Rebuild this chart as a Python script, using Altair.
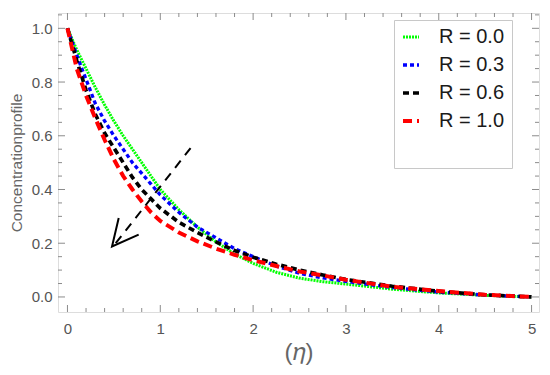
import altair as alt
import pandas as pd

# ---- data ----
eta = [0.0, 0.1, 0.2, 0.3, 0.4, 0.5, 0.6, 0.7, 0.8, 0.9, 1.0, 1.2, 1.4, 1.6, 1.8,
       2.0, 2.25, 2.5, 2.75, 3.0, 3.5, 4.0, 4.5, 5.0]
r00 = [1.0, 0.92, 0.85, 0.78, 0.715, 0.655, 0.60, 0.55, 0.50, 0.45, 0.40, 0.325,
       0.26, 0.205, 0.16, 0.125, 0.092, 0.07, 0.057, 0.048, 0.029, 0.015, 0.006, 0.0]
r03 = [1.0, 0.90, 0.81, 0.72, 0.655, 0.60, 0.55, 0.50, 0.46, 0.42, 0.38, 0.315,
       0.26, 0.22, 0.18, 0.15, 0.115, 0.088, 0.071, 0.058, 0.035, 0.018, 0.007, 0.0]
r06 = [1.0, 0.88, 0.77, 0.68, 0.61, 0.555, 0.50, 0.445, 0.40, 0.365, 0.33, 0.278,
       0.24, 0.205, 0.173, 0.148, 0.122, 0.10, 0.082, 0.065, 0.04, 0.021, 0.008, 0.0]
r10 = [1.0, 0.85, 0.75, 0.665, 0.585, 0.512, 0.45, 0.40, 0.355, 0.315, 0.283, 0.24,
       0.207, 0.18, 0.157, 0.137, 0.115, 0.095, 0.08, 0.064, 0.038, 0.022, 0.008, 0.0]
series = ["R = 0.0", "R = 0.3", "R = 0.6", "R = 1.0"]
colors = ["#00ff00", "#0000ff", "#000000", "#ff0000"]
dashes = [[2, 1], [4, 3], [6, 4], [9, 5]]
widths = [3, 4, 4, 4.5]

x_major = [0, 1, 2, 3, 4, 5]
x_minor = [0.2, 0.4, 0.6, 0.8, 1.2, 1.4, 1.6, 1.8, 2.2, 2.4, 2.6, 2.8, 3.2, 3.4,
           3.6, 3.8, 4.2, 4.4, 4.6, 4.8]
y_major = [0.0, 0.2, 0.4, 0.6, 0.8, 1.0]
y_minor = [0.05, 0.1, 0.15, 0.25, 0.3, 0.35, 0.45, 0.5, 0.55, 0.65, 0.7, 0.75,
           0.85, 0.9, 0.95, 1.05]

# annotation arrow (data coordinates)
shaft_x = [1.358, 0.52]
shaft_y = [0.568, 0.20]
head_x = [0.552, 0.48, 0.767]
head_y = [0.294, 0.188, 0.232]

W, H = 481, 299
XD = [-0.102, 5.08]
YD = [-0.056, 1.057]
FRAME = "#8c8c8c"

rows = []
for name, vals in zip(series, [r00, r03, r06, r10]):
    for e, v in zip(eta, vals):
        rows.append({"eta": e, "val": v, "R": name})
df = pd.DataFrame(rows)

xs = alt.Scale(domain=XD, nice=False, zero=False)
ys = alt.Scale(domain=YD, nice=False, zero=False)

legend = alt.Legend(
    title="\u00a0", titleOrient="bottom", titleFontSize=20, titlePadding=10,
    orient="none", legendX=336, legendY=7,
    symbolType="stroke", symbolSize=256, symbolStrokeWidth=4, symbolDash=[3, 1],
    labelFontSize=20, labelFont="Liberation Sans", labelColor="#1a1a1a",
    labelOffset=18, rowPadding=8, padding=7,
    strokeColor="#c8c8c8", fillColor="white",
)

lines = alt.Chart(df).mark_line(clip=True).encode(
    x=alt.X("eta:Q", scale=xs,
            axis=alt.Axis(values=x_major, format="d", ticks=False, grid=False, domain=False,
                          labelFontSize=15, labelColor="#555555", labelFont="Liberation Sans",
                          labelPadding=9, title="(𝜂)", titleFontSize=24,
                          titleFontWeight="normal", titleColor="#666666",
                          titleFont="Liberation Sans", titleY=28,
                          titleBaseline="top")),
    y=alt.Y("val:Q", scale=ys,
            axis=alt.Axis(values=y_major, format=".1f", ticks=False, grid=False, domain=False,
                          labelFontSize=15, labelColor="#555555", labelFont="Liberation Sans",
                          labelPadding=6, title="Concentrationprofile", titleFontSize=15.5,
                          titleFontWeight="normal", titleColor="#666666",
                          titleFont="Liberation Sans", titleX=-34)),
    color=alt.Color("R:N", scale=alt.Scale(domain=series, range=colors), legend=legend),
    strokeDash=alt.StrokeDash("R:N", scale=alt.Scale(domain=series, range=dashes), legend=None),
    strokeWidth=alt.StrokeWidth("R:N", scale=alt.Scale(domain=series, range=widths), legend=None),
    order=alt.Order("eta:Q"),
)

shaft = alt.Chart(pd.DataFrame({"x": shaft_x, "y": shaft_y})).mark_line(
    color="black", strokeWidth=2, strokeDash=[9, 7]).encode(
    x=alt.X("x:Q", scale=xs), y=alt.Y("y:Q", scale=ys))
head = alt.Chart(pd.DataFrame({"x": head_x, "y": head_y, "o": [0, 1, 2]})).mark_line(
    color="black", strokeWidth=2).encode(
    x=alt.X("x:Q", scale=xs), y=alt.Y("y:Q", scale=ys), order="o:Q")

def xticks(vals, length):
    d = pd.DataFrame({"t": vals})
    bot = alt.Chart(d).mark_rule(color=FRAME, strokeWidth=1).encode(
        x=alt.X("t:Q", scale=xs), y=alt.value(H), y2=alt.value(H - length))
    top = alt.Chart(d).mark_rule(color=FRAME, strokeWidth=1).encode(
        x=alt.X("t:Q", scale=xs), y=alt.value(0), y2=alt.value(length))
    return bot + top

def yticks(vals, length):
    d = pd.DataFrame({"t": vals})
    left = alt.Chart(d).mark_rule(color=FRAME, strokeWidth=1).encode(
        y=alt.Y("t:Q", scale=ys), x=alt.value(0), x2=alt.value(length))
    right = alt.Chart(d).mark_rule(color=FRAME, strokeWidth=1).encode(
        y=alt.Y("t:Q", scale=ys), x=alt.value(W), x2=alt.value(W - length))
    return left + right

chart = alt.layer(
    xticks(x_major, 7), xticks(x_minor, 4), yticks(y_major, 7), yticks(y_minor, 4),
    lines, shaft, head,
).properties(
    width=W, height=H,
    autosize=alt.AutoSizeParams(type="none"),
    padding={"left": 50, "top": 5, "right": 3, "bottom": 55},
).configure_view(
    stroke=FRAME, strokeWidth=1.2
).configure(background="white")

chart.save("out.html", embed_options={"renderer": "svg", "actions": False})
